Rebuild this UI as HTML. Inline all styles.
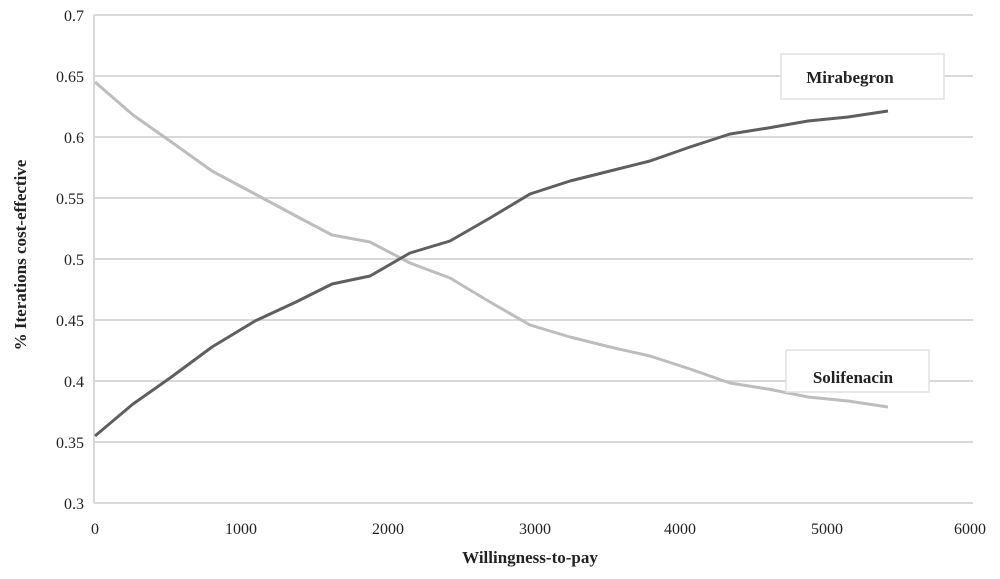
<!DOCTYPE html>
<html><head><meta charset="utf-8"><style>
html,body{margin:0;padding:0;background:#fff}
svg{display:block}
text{font-family:"Liberation Serif",serif;fill:#222}
</style></head><body>
<svg width="1000" height="579" viewBox="0 0 1000 579">
<g stroke="#d9d9d9" stroke-width="2">
<line x1="94" y1="15" x2="973" y2="15"/>
<line x1="94" y1="76" x2="973" y2="76"/>
<line x1="94" y1="137" x2="973" y2="137"/>
<line x1="94" y1="198" x2="973" y2="198"/>
<line x1="94" y1="259" x2="973" y2="259"/>
<line x1="94" y1="320" x2="973" y2="320"/>
<line x1="94" y1="381" x2="973" y2="381"/>
<line x1="94" y1="442" x2="973" y2="442"/>
<line x1="94" y1="503" x2="973" y2="503"/>
<line x1="94" y1="15" x2="94" y2="503"/>
</g>
<g font-size="16" text-anchor="end">
<text x="84" y="21">0.7</text><text x="84" y="82">0.65</text><text x="84" y="143">0.6</text>
<text x="84" y="204">0.55</text><text x="84" y="265">0.5</text><text x="84" y="326">0.45</text>
<text x="84" y="387">0.4</text><text x="84" y="448">0.35</text><text x="84" y="509">0.3</text>
</g>
<g font-size="16" text-anchor="middle">
<text x="95" y="534">0</text><text x="241" y="534">1000</text><text x="388" y="534">2000</text>
<text x="535" y="534">3000</text><text x="680" y="534">4000</text><text x="827" y="534">5000</text><text x="970" y="534">6000</text>
</g>
<text x="530" y="563" font-size="17" font-weight="bold" text-anchor="middle">Willingness-to-pay</text>
<text transform="translate(26,255) rotate(-90)" font-size="17" font-weight="bold" text-anchor="middle">% Iterations cost-effective</text>
<polyline fill="none" stroke="#bdbdbd" stroke-width="3" stroke-linejoin="round" points="95,82 133,115 170,141 212,171 255,194 296,216 332,235 370,242 410,263 450,278 490,302 530,325 570,337 610,347 650,356 690,369 730,383 768,389 808,397 848,401 888,407"/>
<polyline fill="none" stroke="#5f5f5f" stroke-width="3" stroke-linejoin="round" points="95,436 133,404 170,378 212,347 255,321 296,302 332,284 370,276 410,253 450,241 490,218 530,194 570,181 610,171 650,161 690,147 730,134 768,128 808,121 848,117 888,111"/>
<rect x="781" y="54" width="163" height="45" fill="#fff" stroke="#e0e0e0" stroke-width="1.5"/>
<text x="850" y="83" font-size="17" font-weight="bold" text-anchor="middle">Mirabegron</text>
<rect x="786" y="350" width="143" height="42" fill="#fff" stroke="#e0e0e0" stroke-width="1.5"/>
<text x="853" y="383" font-size="17" font-weight="bold" text-anchor="middle">Solifenacin</text>
</svg>
</body></html>
